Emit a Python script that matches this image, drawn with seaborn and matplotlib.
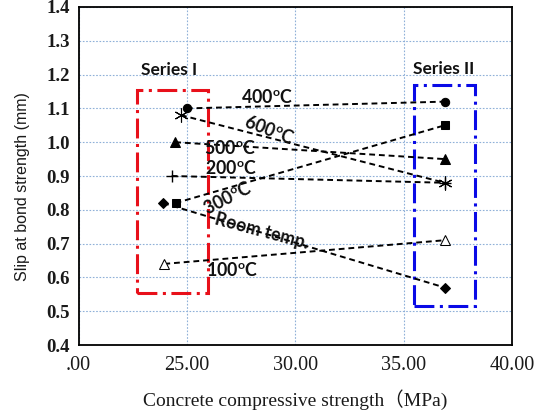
import matplotlib
matplotlib.use("Agg")
import matplotlib.pyplot as plt
from matplotlib.patches import Rectangle
import seaborn as sns
import pandas as pd

# Bond-slip data: left point = Series I, right point = Series II
temps = ["Room temp.", "100", "200", "300", "400", "500", "600"]
strength_I = [23.9, 23.96, 24.3, 24.48, 25.0, 24.46, 24.73]
strength_II = [36.9, 36.9, 36.9, 36.9, 36.9, 36.9, 36.9]
slip_I = [0.82, 0.64, 0.90, 0.82, 1.10, 1.00, 1.08]
slip_II = [0.57, 0.71, 0.88, 1.05, 1.12, 0.95, 0.88]

x_ticks = [20, 25, 30, 35, 40]
x_tick_labels = [".00", "25.00", "30.00", "35.00", "40.00"]
y_ticks = [0.4, 0.5, 0.6, 0.7, 0.8, 0.9, 1.0, 1.1, 1.2, 1.3, 1.4]

sns.set_theme(style="white")
plt.rcParams["font.family"] = ["Liberation Serif", "Noto Sans CJK SC"]

rows = []
for t, x1, x2, y1, y2 in zip(temps, strength_I, strength_II, slip_I, slip_II):
    rows.append({"temp": t, "strength": x1, "slip": y1})
    rows.append({"temp": t, "strength": x2, "slip": y2})
df = pd.DataFrame(rows)

marker_style = {
    "Room temp.": dict(marker="D", markersize=5.5, markerfacecolor="black"),
    "100": dict(marker="^", markersize=7.5, markerfacecolor="white"),
    "200": dict(marker="+", markersize=8, markeredgewidth=1.0),
    "300": dict(marker="s", markersize=5.5, markerfacecolor="black"),
    "400": dict(marker="o", markersize=6, markerfacecolor="black"),
    "500": dict(marker="^", markersize=7, markerfacecolor="black"),
    "600": dict(marker=(6, 2, 0), markersize=10, markeredgewidth=0.8),
}

fig = plt.figure(figsize=(5.40, 4.19), dpi=100)
ax = fig.add_axes([0.1454, 0.1766, 0.8026, 0.8067])

for t in temps:
    sub = df[df["temp"] == t]
    sns.lineplot(data=sub, x="strength", y="slip", ax=ax, color="black",
                 linestyle=(0, (3, 2)), linewidth=1.4,
                 markeredgecolor="black", **marker_style[t])

# Group outlines
red_box = (22.72, 0.553, 25.99, 1.154)
blue_box = (35.48, 0.516, 38.31, 1.169)
ax.add_patch(Rectangle((red_box[0], red_box[1]), red_box[2] - red_box[0],
                       red_box[3] - red_box[1], fill=False, edgecolor="#e8101a",
                       linewidth=2.2, linestyle=(0, (6.5, 1.8, 1, 1.8)), zorder=1))
ax.add_patch(Rectangle((blue_box[0], blue_box[1]), blue_box[2] - blue_box[0],
                       blue_box[3] - blue_box[1], fill=False, edgecolor="#0a0ae6",
                       linewidth=2.2, linestyle=(0, (6.5, 1.8, 1, 1.8)), zorder=1))

lab = dict(family="Lato", fontweight="bold", color="#111111")
ax.text(24.18, 1.214, "Series I", fontsize=12.5, ha="center", va="center", **lab)
ax.text(36.84, 1.216, "Series II", fontsize=12.5, ha="center", va="center", **lab)

deg = r"$^{\mathregular{o}}$C"
labels = [
    ("400" + deg, 28.72, 1.135, 0),
    ("600" + deg, 28.79, 1.036, -21),
    ("500" + deg, 26.99, 0.982, 0),
    ("200" + deg, 27.03, 0.923, 0),
    ("300" + deg, 26.90, 0.835, 27),
    ("Room temp.", 28.45, 0.735, -15),
    ("100" + deg, 27.10, 0.622, 0),
]
for txt, x, y, rot in labels:
    ax.text(x, y, txt, fontsize=12.8, ha="center", va="center",
            rotation=rot, rotation_mode="anchor", **lab)

ax.set_xlim(20, 40)
ax.set_ylim(0.4, 1.4)
ax.set_xticks(x_ticks)
ax.set_xticklabels(x_tick_labels, fontsize=14.5)
ax.set_yticks(y_ticks)
ax.set_yticklabels([f"{v:.1f}" for v in y_ticks], fontsize=13.5, fontweight="bold")
ax.tick_params(axis="both", length=0, pad=8, colors="#1a1a1a")
ax.tick_params(axis="y", pad=6)

ax.grid(True, linestyle=(0, (1.5, 1.5)), color="#8fb0d8", linewidth=0.8)
ax.set_axisbelow(True)
for sp in ax.spines.values():
    sp.set_color("black")
    sp.set_linewidth(1.3)

ax.set_ylabel("Slip at bond strength (mm)", family="Liberation Sans",
              fontsize=11.5, color="#1a1a1a")
ax.yaxis.set_label_coords(-0.112, 0.47)
ax.set_xlabel("Concrete compressive strength（MPa)", fontsize=14,
              color="#1a1a1a", labelpad=10)

fig.savefig("out.png", dpi=100)
